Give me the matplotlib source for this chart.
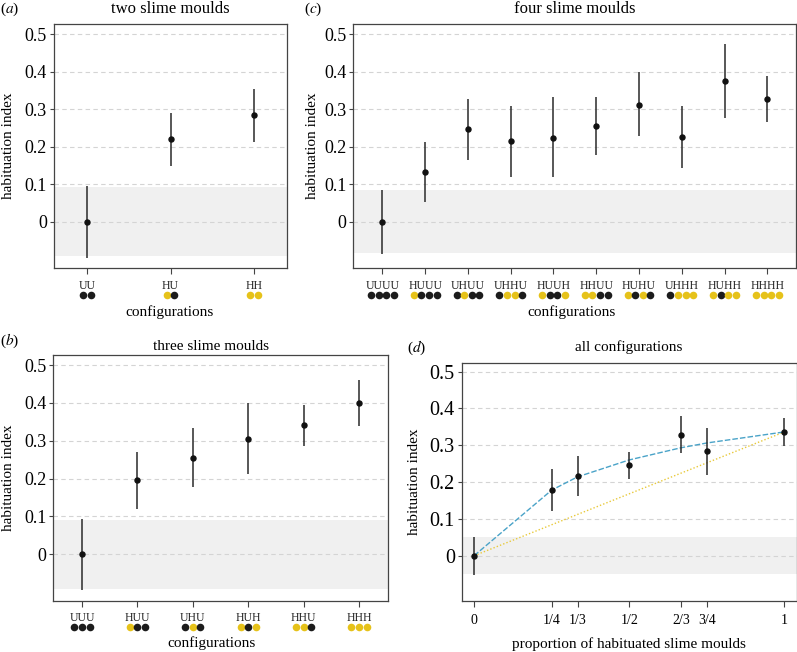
"""
Habituation index of slime mould configurations, four panels.
"""

import matplotlib

matplotlib.use("Agg")
import matplotlib.pyplot as plt
from matplotlib.transforms import ScaledTranslation, blended_transform_factory

plt.rcParams["font.family"] = ["Liberation Serif", "DejaVu Serif"]
plt.rcParams["mathtext.fontset"] = "stix"

W, H = 797, 652

YELLOW = "#e6c21a"
BLACK = "#1c1c1c"
BLUE = "#4aa3c8"
DOTYEL = "#e8c93a"

# (a) two slime moulds
two_conf = ["UU", "HU", "HH"]
two_mean = [0.0, 0.220, 0.283]
two_low = [-0.096, 0.148, 0.212]
two_high = [0.095, 0.290, 0.354]
two_band = 0.093

# (b) three slime moulds
three_conf = ["UUU", "HUU", "UHU", "HUH", "HHU", "HHH"]
three_mean = [0.0, 0.195, 0.255, 0.306, 0.342, 0.400]
three_low = [-0.095, 0.119, 0.177, 0.212, 0.286, 0.338]
three_high = [0.094, 0.269, 0.333, 0.400, 0.396, 0.461]
three_band = 0.091

# (c) four slime moulds
four_conf = ["UUUU", "HUUU", "UHUU", "UHHU", "HUUH",
             "HHUU", "HUHU", "UHHH", "HUHH", "HHHH"]
four_mean = [0.0, 0.131, 0.246, 0.214, 0.224, 0.255, 0.312, 0.225, 0.374, 0.327]
four_low = [-0.087, 0.052, 0.163, 0.119, 0.118, 0.178, 0.227, 0.144, 0.277, 0.265]
four_high = [0.085, 0.211, 0.328, 0.309, 0.331, 0.333, 0.399, 0.307, 0.473, 0.388]
four_band = 0.083

# (d) all configurations
prop_x = [0, 1 / 4, 1 / 3, 1 / 2, 2 / 3, 3 / 4, 1]
prop_labels = ["0", "1/4", "1/3", "1/2", "2/3", "3/4", "1"]
prop_mean = [0.0, 0.178, 0.216, 0.245, 0.329, 0.284, 0.336]
prop_low = [-0.053, 0.120, 0.162, 0.207, 0.280, 0.220, 0.298]
prop_high = [0.052, 0.235, 0.272, 0.282, 0.379, 0.347, 0.373]
prop_band = 0.050
model_curve = [0.0, 0.178, 0.214, 0.260, 0.293, 0.306, 0.336]
linear_x = [0, 1]
linear_y = [0.0, 0.336]


def add_axes_px(fig, left, right, top, bottom):
    return fig.add_axes([left / W, 1 - bottom / H, (right - left) / W, (bottom - top) / H])


def style_axes(ax, band, ysize=13):
    ax.set_ylim(-0.124, 0.527)
    ax.set_yticks([0, 0.1, 0.2, 0.3, 0.4, 0.5])
    ax.set_yticklabels(["0", "0.1", "0.2", "0.3", "0.4", "0.5"], fontsize=ysize)
    ax.axhspan(-band, band, color="#f0f0f0", lw=0, zorder=0)
    for v in [0, 0.1, 0.2, 0.3, 0.4, 0.5]:
        ax.axhline(v, color="#d4d4d4", lw=0.8, ls=(0, (4, 3)), zorder=1)
    for s in ax.spines.values():
        s.set_color("#444444")
        s.set_linewidth(0.9)
    ax.tick_params(axis="y", length=3, width=0.8, color="#444444", pad=2)
    ax.tick_params(axis="x", length=4, width=0.8, color="#444444", pad=4)


def draw_points(ax, x, mean, low, high):
    ax.vlines(x, low, high, color="#2a2a2a", lw=1.1, zorder=3)
    ax.plot(x, mean, "o", color="#111111", ms=3.6, zorder=4)


def draw_configs(fig, ax, conf, label_off, dot_off):
    n = len(conf)
    ax.set_xticks(range(1, n + 1))
    ax.set_xticklabels([""] * n)
    bbox = ax.get_position()
    h_px = bbox.height * H
    trans = blended_transform_factory(ax.transData, ax.transAxes)
    for i, c in enumerate(conf, start=1):
        ax.text(i, -label_off / h_px, c, transform=trans, ha="center", va="center",
                fontsize=8.5, color="#222222")
        m = len(c)
        for j, ch in enumerate(c):
            dx = (j - (m - 1) / 2) * 7.6 * 72 / 100
            t = trans + ScaledTranslation(dx / 72, 0, fig.dpi_scale_trans)
            ax.scatter([i], [-dot_off / h_px], s=30, color=YELLOW if ch == "H" else BLACK,
                       transform=t, clip_on=False, lw=0, zorder=5)


def put_text(fig, x, y, s, **kw):
    fig.text(x / W, 1 - y / H, s, ha="center", va="center", **kw)


fig = plt.figure(figsize=(W / 100, H / 100), dpi=100)

# (a)
ax_a = add_axes_px(fig, 54, 287, 24, 268)
style_axes(ax_a, two_band)
ax_a.set_xlim(0.6, 3.4)
draw_points(ax_a, range(1, 4), two_mean, two_low, two_high)
draw_configs(fig, ax_a, two_conf, 18, 27)
put_text(fig, 170, 9, "two slime moulds", fontsize=12)
put_text(fig, 10, 9, r"($a$)", fontsize=11)
put_text(fig, 170, 312, "configurations", fontsize=11)
put_text(fig, 9, 146, "habituation index", fontsize=11, rotation=90)

# (c)
ax_c = add_axes_px(fig, 353.3, 796, 24, 268)
style_axes(ax_c, four_band)
ax_c.set_xlim(0.32, 10.67)
draw_points(ax_c, range(1, 11), four_mean, four_low, four_high)
draw_configs(fig, ax_c, four_conf, 18, 27)
put_text(fig, 575, 9, "four slime moulds", fontsize=12)
put_text(fig, 313, 9, r"($c$)", fontsize=11)
put_text(fig, 571, 312, "configurations", fontsize=11)
put_text(fig, 313, 146, "habituation index", fontsize=11, rotation=90)

# (b)
ax_b = add_axes_px(fig, 53.3, 387.7, 355, 601)
style_axes(ax_b, three_band)
ax_b.set_xlim(0.48, 6.52)
draw_points(ax_b, range(1, 7), three_mean, three_low, three_high)
draw_configs(fig, ax_b, three_conf, 17, 26)
put_text(fig, 211, 347, "three slime moulds", fontsize=11)
put_text(fig, 10, 341, r"($b$)", fontsize=11)
put_text(fig, 211, 643, "configurations", fontsize=11)
put_text(fig, 9, 478, "habituation index", fontsize=11, rotation=90)

# (d)
ax_d = add_axes_px(fig, 461.7, 796.7, 362.7, 601)
style_axes(ax_d, prop_band, ysize=14.5)
ax_d.set_ylim(-0.123, 0.524)
ax_d.set_xlim(-0.04, 1.04)
ax_d.plot(linear_x, linear_y, color=DOTYEL, lw=1.0, ls=(0, (1, 1.5)), zorder=2)
ax_d.plot(prop_x, model_curve, color=BLUE, lw=1.0, ls=(0, (4, 1.5)), zorder=2)
draw_points(ax_d, prop_x, prop_mean, prop_low, prop_high)
ax_d.set_xticks(prop_x)
ax_d.set_xticklabels(prop_labels, fontsize=10)
ax_d.tick_params(axis="x", pad=5)
put_text(fig, 629, 347, "all configurations", fontsize=11)
put_text(fig, 417, 348, r"($d$)", fontsize=11)
put_text(fig, 629, 644, "proportion of habituated slime moulds", fontsize=11)
put_text(fig, 415, 482, "habituation index", fontsize=11, rotation=90)

fig.savefig("out.png", dpi=100)
